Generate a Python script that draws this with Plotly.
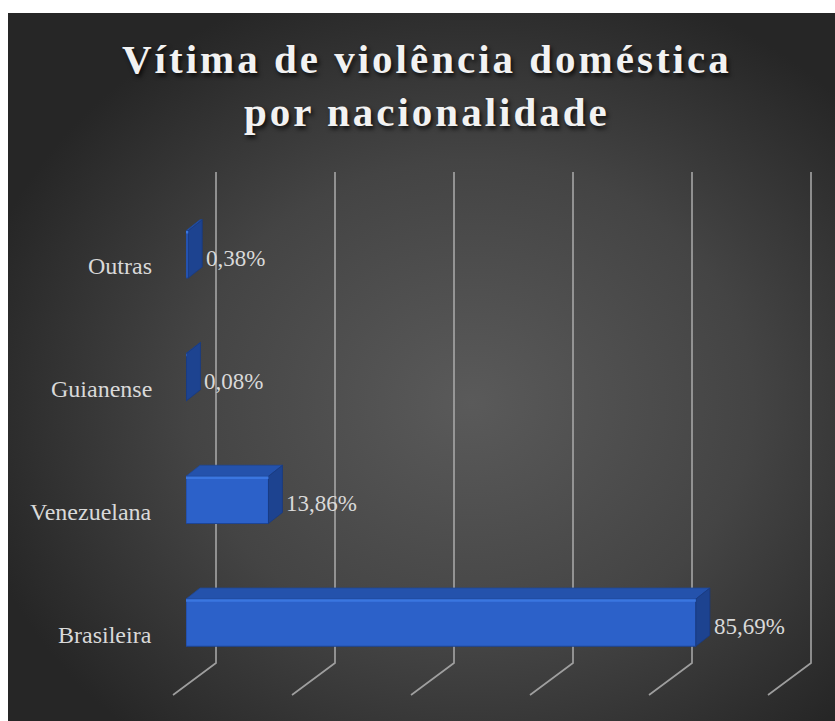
import base64
import plotly.graph_objects as go

# ---------------- data ----------------
categories = ["Brasileira", "Venezuelana", "Guianense", "Outras"]
values = [85.69, 13.86, 0.08, 0.38]
value_labels = ["85,69%", "13,86%", "0,08%", "0,38%"]
grid_ticks = [0, 20, 40, 60, 80, 100]
title_lines = ["Vítima de violência doméstica", "por nacionalidade"]

# ---------------- geometry / style ----------------
W, H = 835, 721
PLOT_L, PLOT_R = 186, 781          # x pixels of 0 and 100 on the bar plane
PLOT_T, PLOT_B = 193, 684          # y pixels of plot area
X_RANGE = [0, 100]
Y_RANGE = [-0.5, 3.5]
BAR_W = 0.385
DEPTH_DX_PX, DEPTH_DY_PX = 14, 11  # 3D depth offset of bars

x_per_px = (X_RANGE[1] - X_RANGE[0]) / (PLOT_R - PLOT_L)
y_per_px = (Y_RANGE[1] - Y_RANGE[0]) / (PLOT_B - PLOT_T)
DX = DEPTH_DX_PX * x_per_px
DY = DEPTH_DY_PX * y_per_px


def xpix(v):
    return PLOT_L + (v - X_RANGE[0]) / x_per_px


def px2paper(x, y):
    return x / W, 1 - y / H


FONT = "Liberation Serif, Times New Roman, serif"
TXT = "#d9d9d9"

fig = go.Figure()

# front faces
ys = list(range(len(categories)))
fig.add_trace(go.Bar(
    y=ys, x=values, orientation="h", width=BAR_W,
    marker=dict(color="#2c61c9", line=dict(color="#1d4596", width=1)),
    hoverinfo="skip", showlegend=False,
))

# top faces and right faces (3D)
top_x, top_y, side_x, side_y, hl_x, hl_y = [], [], [], [], [], []
for y, v in zip(ys, values):
    yt = y + BAR_W / 2
    yb = y - BAR_W / 2
    top_x += [0, DX, v + DX, v, 0, None]
    top_y += [yt, yt + DY, yt + DY, yt, yt, None]
    side_x += [v, v + DX, v + DX, v, v, None]
    side_y += [yb, yb + DY, yt + DY, yt, yb, None]
    hl_x += [0, v, None]
    hl_y += [yt - 0.012, yt - 0.012, None]

fig.add_trace(go.Scatter(x=top_x, y=top_y, fill="toself", mode="lines",
                         fillcolor="#2452ac", line=dict(width=0.8, color="#1f4796"),
                         hoverinfo="skip", showlegend=False))
fig.add_trace(go.Scatter(x=side_x, y=side_y, fill="toself", mode="lines",
                         fillcolor="#1d4390", line=dict(width=0.8, color="#183a80"),
                         hoverinfo="skip", showlegend=False))
fig.add_trace(go.Scatter(x=hl_x, y=hl_y, mode="lines",
                         line=dict(width=2.5, color="#3a76e0"),
                         hoverinfo="skip", showlegend=False))

# ---------------- background (radial gradient) ----------------
svg = (
    '<svg xmlns="http://www.w3.org/2000/svg" width="827" height="708">'
    '<defs><radialGradient id="g" cx="0.56" cy="0.55" r="0.62" fx="0.56" fy="0.55">'
    '<stop offset="0" stop-color="#5a5a5a"/>'
    '<stop offset="0.55" stop-color="#444444"/>'
    '<stop offset="1" stop-color="#262626"/>'
    '</radialGradient></defs>'
    '<rect width="827" height="708" fill="url(#g)"/></svg>'
)
src = "data:image/svg+xml;base64," + base64.b64encode(svg.encode()).decode()
bx, by = px2paper(8, 13)
images = [dict(source=src, xref="paper", yref="paper", x=bx, y=by,
               sizex=(W - 8) / W, sizey=(H - 13) / H, xanchor="left", yanchor="top",
               sizing="stretch", layer="below")]

# ---------------- gridlines (3D wall + floor) ----------------
shapes = []
GRID_TOP, GRID_BACK_BOTTOM, GRID_FRONT_BOTTOM = 172, 663, 695
for t in grid_ticks:
    xb = xpix(t) + 30
    xf = xpix(t) - 13
    p1 = px2paper(xb, GRID_TOP)
    p2 = px2paper(xb, GRID_BACK_BOTTOM)
    p3 = px2paper(xf, GRID_FRONT_BOTTOM)
    shapes.append(dict(
        type="path", xref="paper", yref="paper", layer="below",
        path=f"M{p1[0]},{p1[1]} L{p2[0]},{p2[1]} L{p3[0]},{p3[1]}",
        line=dict(color="rgba(170,170,170,0.9)", width=1.7),
    ))

# subtle bar shadows
for y, v in zip(ys, values):
    shapes.append(dict(
        type="rect", xref="x", yref="y", layer="below",
        x0=-6 * x_per_px, x1=0, y0=y - BAR_W / 2 - 0.03, y1=y + BAR_W / 2 + DY,
        fillcolor="rgba(0,0,0,0.35)", line=dict(width=0),
    ))

# ---------------- annotations ----------------
annotations = []
for y, v, lab, cat in zip(ys, values, value_labels, categories):
    annotations.append(dict(
        x=v, y=y, xref="x", yref="y", text=lab, showarrow=False,
        xanchor="left", yanchor="middle", xshift=DEPTH_DX_PX + 2, yshift=-4,
        font=dict(family=FONT, size=23, color=TXT),
    ))
    annotations.append(dict(
        x=0, y=y, xref="x", yref="y", text=cat, showarrow=False,
        xanchor="right", yanchor="middle", xshift=-32, yshift=-12,
        font=dict(family=FONT, size=24, color=TXT),
    ))

title_text = "<b>" + "<br>".join(
    f'<span style="letter-spacing:3px">{s}</span>' for s in title_lines) + "</b>"
tx, ty = px2paper(427, 86)
annotations.append(dict(
    x=tx, y=ty, xref="paper", yref="paper", text=title_text, showarrow=False,
    xanchor="center", yanchor="middle", align="center",
    font=dict(family=FONT, size=41, color="#f2f2f2",
              shadow="2px 3px 4px rgba(0,0,0,0.75)"),
))

fig.update_layout(
    width=W, height=H,
    margin=dict(l=0, r=0, t=0, b=0),
    paper_bgcolor="white",
    plot_bgcolor="rgba(0,0,0,0)",
    showlegend=False,
    xaxis=dict(domain=[PLOT_L / W, PLOT_R / W], range=X_RANGE, showgrid=False,
               zeroline=False, showticklabels=False, showline=False, fixedrange=True),
    yaxis=dict(domain=[1 - PLOT_B / H, 1 - PLOT_T / H], range=Y_RANGE, showgrid=False,
               zeroline=False, showticklabels=False, showline=False, fixedrange=True),
    images=images,
    shapes=shapes,
    annotations=annotations,
)

fig.write_html("out.html")
